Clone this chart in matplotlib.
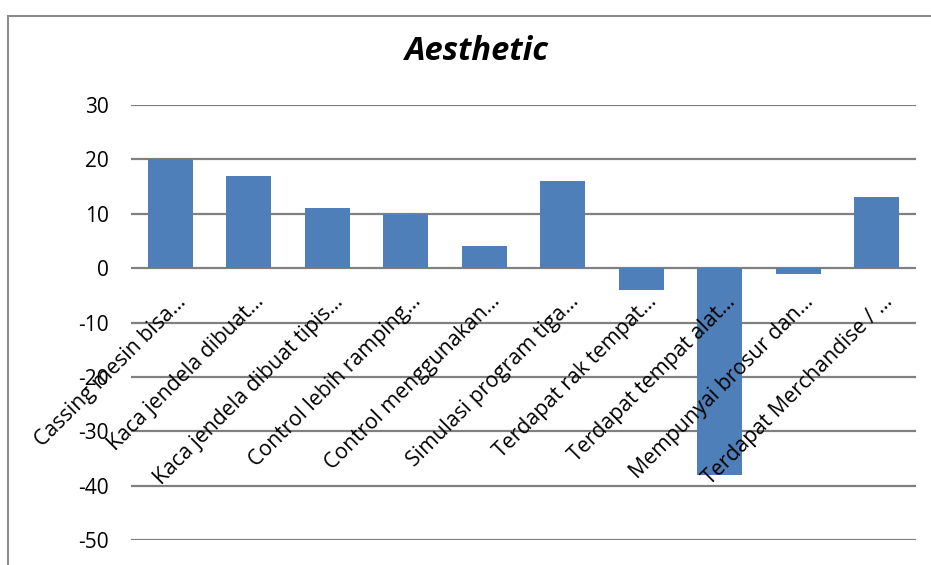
import matplotlib.pyplot as plt
from matplotlib.patches import Rectangle

categories = [
    "Cassing mesin bisa…",
    "Kaca jendela dibuat…",
    "Kaca jendela dibuat tipis…",
    "Control lebih ramping…",
    "Control menggunakan…",
    "Simulasi program tiga…",
    "Terdapat rak tempat…",
    "Terdapat tempat alat…",
    "Mempunyai brosur dan…",
    "Terdapat Merchandise / …",
]
values = [20, 17, 11, 10, 4, 16, -4, -38, -1, 13]
yticks = [30, 20, 10, 0, -10, -20, -30, -40, -50]

plt.rcParams['font.family'] = ['Open Sans', 'DejaVu Sans']

fig = plt.figure(figsize=(9.31, 5.65), dpi=100)
ax = fig.add_axes([131 / 931, 1 - 540 / 565, 785 / 931, 435 / 565])

x = list(range(len(values)))
ax.bar(x, values, width=1 / 1.75, color="#4f7fb9", zorder=3)

ax.set_xlim(-0.5, len(values) - 0.5)
ax.set_ylim(-50, 30)
ax.set_yticks(yticks)
ax.set_yticklabels([str(t) for t in yticks], fontsize=15)
ax.tick_params(axis="y", length=0, pad=16)
ax.set_xticks([])
for s in ax.spines.values():
    s.set_visible(False)
for t in yticks:
    ax.axhline(t, color="#808080", lw=1.6, zorder=2)

for i, lab in enumerate(categories):
    ax.annotate(lab, (i, 0), xytext=(9, -22), textcoords="offset points",
                rotation=45, rotation_mode="anchor", ha="right", va="center",
                fontsize=15.3, zorder=4)

fig.text(477 / 931, 1 - 52 / 565, "Aesthetic", ha="center", va="center",
         fontsize=23.5, fontweight="bold", fontstyle="italic")

# chart frame
fig.patches.append(Rectangle((8 / 931, -0.1), 1.2, 1 - 16 / 565 + 0.1,
                             transform=fig.transFigure, fill=False,
                             edgecolor="#8c8c8c", lw=1.5))

fig.savefig("out.png", dpi=100)
